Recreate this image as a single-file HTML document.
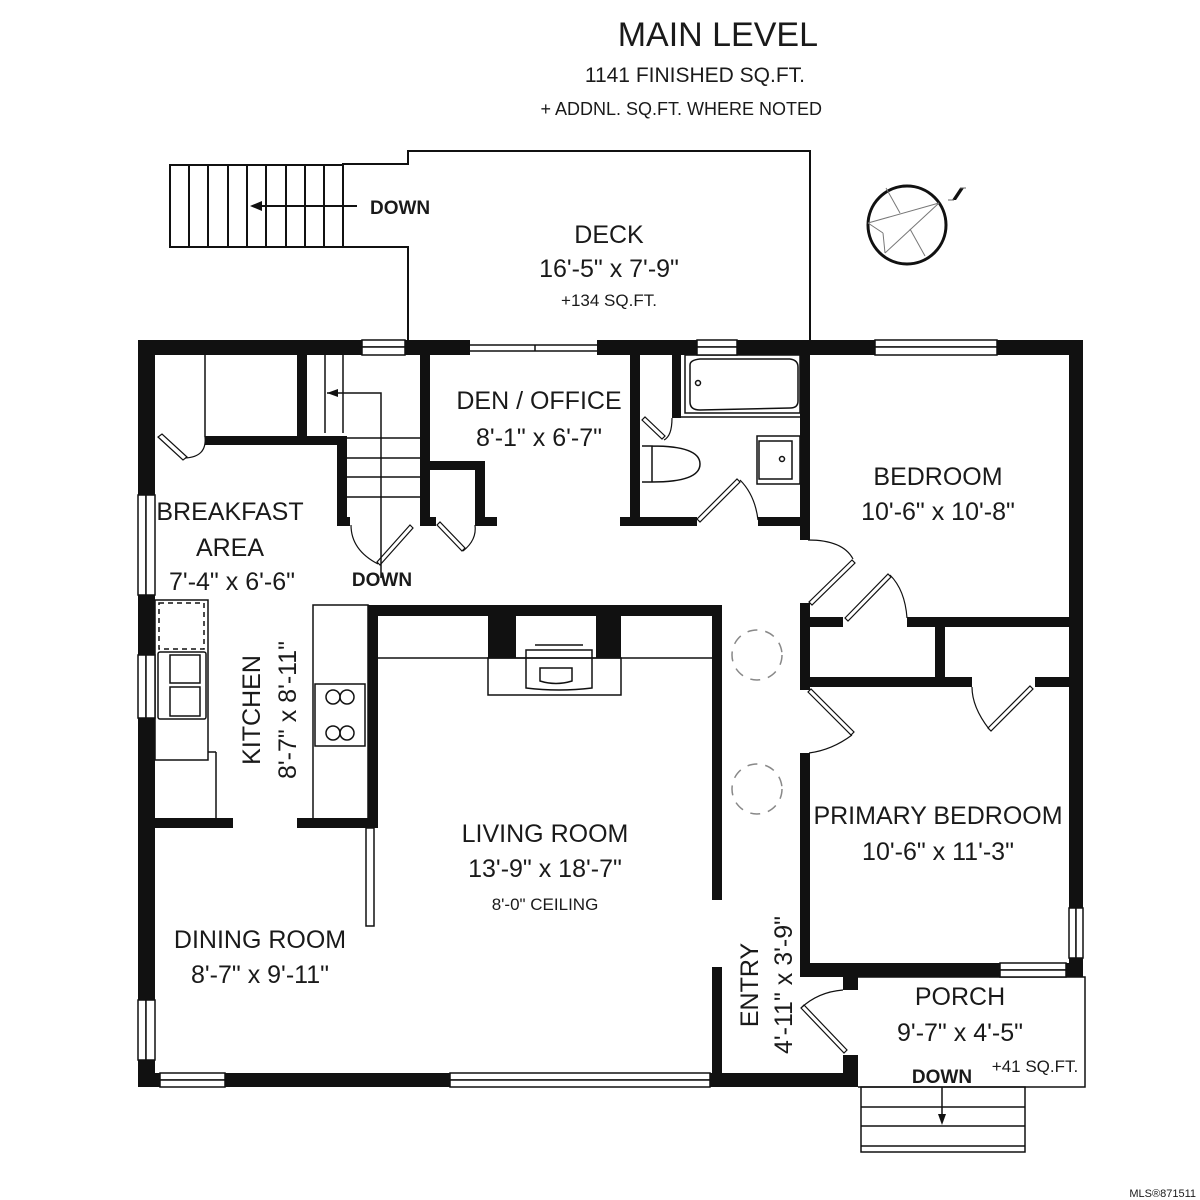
<!DOCTYPE html>
<html><head><meta charset="utf-8"><style>
html,body{margin:0;padding:0;background:#fff;}
svg{display:block;}
text{font-family:"Liberation Sans",sans-serif;fill:#1a1a1a;}
</style></head><body>
<svg width="1200" height="1200" viewBox="0 0 1200 1200" xmlns="http://www.w3.org/2000/svg">
<rect width="1200" height="1200" fill="#fff"/>
<text x="818" y="46" font-size="34" text-anchor="end">MAIN LEVEL</text>
<text x="805" y="82" font-size="21" text-anchor="end">1141 FINISHED SQ.FT.</text>
<text x="822" y="115" font-size="18" text-anchor="end">+ ADDNL. SQ.FT. WHERE NOTED</text>

<g fill="none" stroke="#111" stroke-width="2">
<polyline points="408,340 408,247 343,247 343,164 408,164 408,151 810,151 810,340"/>
<rect x="170" y="165" width="173" height="82"/>
<path d="M189,165v82M208,165v82M228,165v82M247,165v82M266,165v82M286,165v82M305,165v82M324,165v82"/>
<line x1="357" y1="206" x2="258" y2="206"/>
</g>
<polygon points="250,206 262,201 262,211" fill="#111"/>
<text x="370" y="214" font-size="19" font-weight="bold">DOWN</text>
<text x="609" y="243" font-size="25" text-anchor="middle">DECK</text>
<text x="609" y="277" font-size="25" text-anchor="middle">16'-5" x 7'-9"</text>
<text x="609" y="306" font-size="17" text-anchor="middle">+134 SQ.FT.</text>

<g fill="none" stroke="#111">
<circle cx="907" cy="225" r="39" stroke-width="3"/>
<g stroke="#777" stroke-width="1"><line x1="886" y1="188" x2="900" y2="213"/><line x1="868" y1="223" x2="939" y2="203"/><line x1="939" y1="203" x2="885" y2="253"/><line x1="868" y1="223" x2="883" y2="233"/><line x1="883" y1="233" x2="885" y2="253"/><line x1="910" y1="229" x2="925" y2="256"/></g>
</g>
<path d="M952,200l4,0l8,-12l-4,0z" fill="#111"/>
<path d="M948,200h6M960,188h6" stroke="#666" stroke-width="1"/>

<g fill="none" stroke="#111" stroke-width="1.5">
<line x1="205" y1="355" x2="205" y2="437"/>
<line x1="325" y1="355" x2="325" y2="433"/>
<line x1="343" y1="355" x2="343" y2="433"/>
<path d="M347,438h73M347,458h73M347,477h73M347,497h73"/>
<polyline points="327,393 381,393 381,578"/>
<rect x="685" y="355" width="115" height="58"/>
<path d="M690,365q0,-5 10,-6l90,0q8,1 8,8v34q0,7 -8,7l-90,2q-10,0 -10,-8z"/>
<circle cx="698" cy="383" r="2.5"/>
<line x1="680" y1="417" x2="800" y2="417"/>
<rect x="757" y="436" width="43" height="48"/><rect x="759" y="441" width="33" height="38"/>
<circle cx="782" cy="459" r="2.5"/>
<path d="M642,446h10v36h-10M652,446q48,0 48,18q0,18 -48,18"/>
<rect x="155" y="600" width="53" height="160"/>
<rect x="159" y="603" width="45" height="46" stroke-dasharray="5,4"/>
<rect x="158" y="652" width="48" height="67" rx="2"/>
<rect x="170" y="655" width="30" height="28"/><rect x="170" y="687" width="30" height="29"/>
<line x1="208" y1="752" x2="216" y2="752"/><line x1="216" y1="752" x2="216" y2="820"/>
<rect x="313" y="605" width="55" height="215"/>
<rect x="315" y="684" width="50" height="62"/>
<circle cx="333" cy="697" r="7"/><circle cx="347" cy="697" r="7"/><circle cx="333" cy="733" r="7"/><circle cx="347" cy="733" r="7"/>
<line x1="378" y1="658" x2="712" y2="658"/>
<rect x="488" y="658" width="133" height="37"/>
<path d="M526,650h66v38q-33,4 -66,0z"/>
<path d="M540,668h32v13q-16,5 -32,0z"/>
<line x1="535" y1="645" x2="583" y2="645"/>
<rect x="366" y="828" width="8" height="98"/>
<polyline points="858,977 1085,977 1085,1087 858,1087"/>
<rect x="861" y="1087" width="164" height="65"/>
<path d="M861,1107h164M861,1126h164M861,1146h164"/>
<line x1="942" y1="1087" x2="942" y2="1117"/>
<path d="M470,345h127M470,351h127M535,345v6"/>
</g>
<polygon points="942,1125 938,1114 946,1114" fill="#111"/>
<polygon points="327,393 338,389 338,397" fill="#111"/>
<g fill="none" stroke="#888" stroke-width="1.5" stroke-dasharray="10,8">
<circle cx="757" cy="655" r="25"/><circle cx="757" cy="789" r="25"/>
</g>

<g fill="#111">
<rect x="138" y="340" width="232" height="15"/>
<rect x="405" y="340" width="65" height="15"/>
<rect x="597" y="340" width="100" height="15"/>
<rect x="737" y="340" width="138" height="15"/>
<rect x="997" y="340" width="86" height="15"/>
<rect x="138" y="340" width="17" height="155"/>
<rect x="138" y="595" width="17" height="60"/>
<rect x="138" y="718" width="17" height="282"/>
<rect x="138" y="1060" width="17" height="27"/>
<rect x="1069" y="340" width="14" height="568"/>
<rect x="1069" y="958" width="14" height="19"/>
<rect x="138" y="1073" width="22" height="14"/>
<rect x="225" y="1073" width="225" height="14"/>
<rect x="710" y="1073" width="148" height="14"/>
<rect x="205" y="436" width="142" height="9"/>
<rect x="297" y="355" width="10" height="82"/>
<rect x="337" y="436" width="10" height="90"/>
<rect x="337" y="517" width="13" height="9"/>
<rect x="420" y="355" width="10" height="171"/>
<rect x="420" y="517" width="16" height="9"/>
<rect x="430" y="461" width="55" height="9"/>
<rect x="475" y="461" width="10" height="65"/>
<rect x="475" y="517" width="22" height="9"/>
<rect x="630" y="355" width="10" height="170"/>
<rect x="620" y="517" width="77" height="9"/>
<rect x="758" y="517" width="50" height="9"/>
<rect x="672" y="355" width="9" height="63"/>
<rect x="800" y="355" width="10" height="185"/>
<rect x="800" y="603" width="10" height="87"/>
<rect x="810" y="617" width="33" height="10"/>
<rect x="907" y="617" width="162" height="10"/>
<rect x="935" y="627" width="10" height="53"/>
<rect x="810" y="677" width="162" height="10"/>
<rect x="1035" y="677" width="34" height="10"/>
<rect x="800" y="753" width="10" height="224"/>
<rect x="800" y="963" width="200" height="14"/>
<rect x="1066" y="963" width="17" height="14"/>
<rect x="843" y="977" width="15" height="13"/>
<rect x="843" y="1055" width="15" height="32"/>
<rect x="368" y="605" width="354" height="11"/>
<rect x="368" y="605" width="10" height="223"/>
<rect x="712" y="605" width="10" height="295"/>
<rect x="712" y="967" width="10" height="106"/>
<rect x="488" y="616" width="28" height="42"/>
<rect x="596" y="616" width="25" height="42"/>
<rect x="155" y="818" width="78" height="10"/>
<rect x="297" y="818" width="81" height="10"/>
</g>
<g fill="#fff" stroke="#111" stroke-width="1.5">
<rect x="362" y="340" width="43" height="7"/><rect x="362" y="347" width="43" height="8"/>
<rect x="697" y="340" width="40" height="7"/><rect x="697" y="347" width="40" height="8"/>
<rect x="875" y="340" width="122" height="7"/><rect x="875" y="347" width="122" height="8"/>
<rect x="138" y="495" width="8" height="100"/><rect x="146" y="495" width="9" height="100"/>
<rect x="138" y="655" width="8" height="63"/><rect x="146" y="655" width="9" height="63"/>
<rect x="138" y="1000" width="8" height="60"/><rect x="146" y="1000" width="9" height="60"/>
<rect x="160" y="1073" width="65" height="7"/><rect x="160" y="1080" width="65" height="7"/>
<rect x="450" y="1073" width="260" height="7"/><rect x="450" y="1080" width="260" height="7"/>
<rect x="1069" y="908" width="7" height="50"/><rect x="1076" y="908" width="7" height="50"/>
<rect x="1000" y="963" width="66" height="7"/><rect x="1000" y="970" width="66" height="7"/>
</g>
<g fill="none" stroke="#111" stroke-width="1.2">
<path d="M158,437l25,23l4,-3l-25,-23z"/><path d="M205,437q2,20 -20,21"/>
<path d="M410,525l-33,37l3,3l33,-37z"/><path d="M351,525q0,25 27,39"/>
<path d="M437,525l25,26l3,-3l-25,-26z"/><path d="M475,525q2,15 -12,26"/>
<path d="M672,418q0,18 -8,22"/><path d="M642,420l20,19l3,-3l-20,-19z"/>
<path d="M697,519l40,-40l3,3l-40,40z"/><path d="M740,480q15,15 18,40"/>
<path d="M808,540q35,0 45,19"/><path d="M852,560l-43,42l3,3l43,-42z"/>
<path d="M845,618l43,-44l3,3l-43,44z"/><path d="M890,575q15,15 17,43"/>
<path d="M808,692l43,43l3,-3l-43,-43z"/><path d="M852,735q-20,15 -43,18"/>
<path d="M972,687q0,20 17,42"/><path d="M988,728l42,-42l3,3l-42,42z"/>
<path d="M843,990q-25,2 -42,18"/><path d="M801,1008l43,45l3,-3l-43,-45z"/>
</g>

<g font-size="25" text-anchor="middle">
<text x="539" y="409">DEN / OFFICE</text>
<text x="539" y="446">8'-1" x 6'-7"</text>
<text x="938" y="485">BEDROOM</text>
<text x="938" y="520">10'-6" x 10'-8"</text>
<text x="230" y="520">BREAKFAST</text>
<text x="230" y="556">AREA</text>
<text x="232" y="590">7'-4" x 6'-6"</text>
<text x="545" y="842">LIVING ROOM</text>
<text x="545" y="877">13'-9" x 18'-7"</text>
<text x="938" y="824">PRIMARY BEDROOM</text>
<text x="938" y="860">10'-6" x 11'-3"</text>
<text x="260" y="948">DINING ROOM</text>
<text x="260" y="983">8'-7" x 9'-11"</text>
<text x="960" y="1005">PORCH</text>
<text x="960" y="1041">9'-7" x 4'-5"</text>
<text transform="translate(260,710) rotate(-90)">KITCHEN</text>
<text transform="translate(296,710) rotate(-90)">8'-7" x 8'-11"</text>
<text transform="translate(758,985) rotate(-90)">ENTRY</text>
<text transform="translate(792,985) rotate(-90)">4'-11" x 3'-9"</text>
</g>
<text x="545" y="910" font-size="17" text-anchor="middle">8'-0" CEILING</text>
<text x="1035" y="1072" font-size="17" text-anchor="middle">+41 SQ.FT.</text>
<text x="942" y="1083" font-size="19" font-weight="bold" text-anchor="middle">DOWN</text>
<text x="382" y="586" font-size="19" font-weight="bold" text-anchor="middle">DOWN</text>
<text x="1196" y="1197" font-size="11" text-anchor="end" fill="#444">MLS®871511</text>
</svg>
</body></html>
